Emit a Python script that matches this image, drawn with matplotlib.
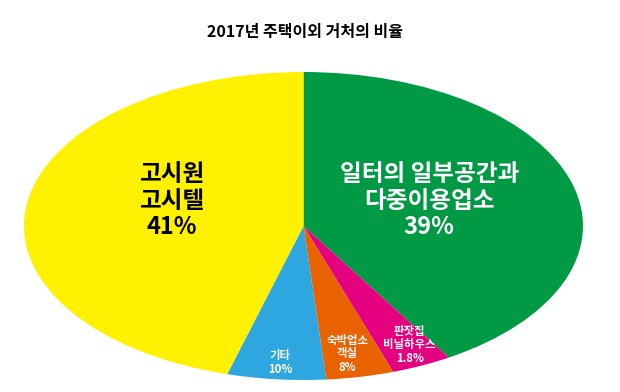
import matplotlib
matplotlib.use("Agg")
from matplotlib import pyplot as plt

plt.rcParams['font.family'] = ['Noto Sans CJK KR', 'DejaVu Sans']

# slices, clockwise from 12 o'clock
names = ['일터의 일부공간과\n다중이용업소', '판잣집\n비닐하우스', '숙박업소\n객실', '기타', '고시원\n고시텔']
pct = ['39%', '1.8%', '8%', '10%', '41%']
# wedge sizes as drawn in the picture (the infographic is not to scale)
shares = [41.3, 3.5, 3.9, 5.7, 45.6]
colors = ['#009944', '#E4007F', '#EA6100', '#2EA7E0', '#FFF100']

fig = plt.figure(figsize=(6.2, 3.92), dpi=100)
ax = fig.add_axes([0.0387, 0.0306, 0.9016, 0.7857])

wedges, _ = ax.pie(shares, colors=colors, startangle=90, counterclock=False,
                   radius=1, wedgeprops=dict(linewidth=0))
ax.set_aspect('auto')
ax.set_xlim(-1, 1)
ax.set_ylim(-1, 1)
ax.axis('off')

#label spots inside each wedge (data coords of the stretched pie)
spots = [(0.45, 0.165), (0.38, -0.77), (0.156, -0.83), (-0.084, -0.885), (-0.47, 0.165)]
big = [True, False, False, False, True]
txtcol = ['white', 'white', 'white', 'white', 'black']
for i in range(len(names)):
    s = names[i] + '\n' + pct[i]
    if big[i]:
        ax.text(spots[i][0], spots[i][1], s, ha='center', va='center', fontsize=17,
                color=txtcol[i], fontweight='bold', linespacing=1.15)
    else:
        ax.text(spots[i][0], spots[i][1], s, ha='center', va='center', fontsize=8.2,
                color=txtcol[i], fontweight='bold', linespacing=1.05)

fig.text(0.492, 0.918, '2017년 주택이외 거처의 비율', ha='center', va='center',
         fontsize=11.5, fontweight='bold', color='black')

plt.savefig('out.png', dpi=100)
